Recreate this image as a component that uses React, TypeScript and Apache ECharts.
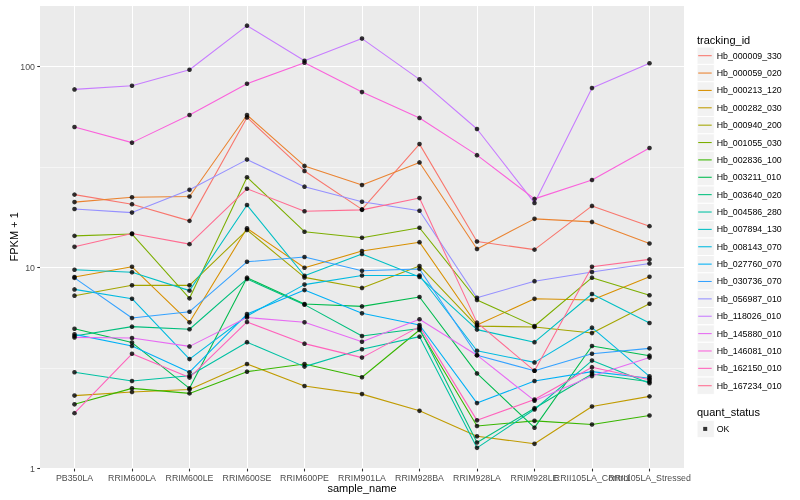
import React, { useEffect, useRef } from "react";
import * as echarts from "echarts";

const categories = [
  "PB350LA", "RRIM600LA", "RRIM600LE", "RRIM600SE", "RRIM600PE", "RRIM901LA",
  "RRIM928BA", "RRIM928LA", "RRIM928LE", "RRII105LA_Control", "RRII105LA_Stressed",
];

const trackingIds = [
  "Hb_000009_330", "Hb_000059_020", "Hb_000213_120", "Hb_000282_030", "Hb_000940_200",
  "Hb_001055_030", "Hb_002836_100", "Hb_003211_010", "Hb_003640_020", "Hb_004586_280",
  "Hb_007894_130", "Hb_008143_070", "Hb_027760_070", "Hb_030736_070", "Hb_056987_010",
  "Hb_118026_010", "Hb_145880_010", "Hb_146081_010", "Hb_162150_010", "Hb_167234_010",
];

const hueColors = [
  "#F8766D", "#EA8331", "#D89000", "#C09B00", "#A3A500", "#7CAE00", "#39B600", "#00BB4E",
  "#00BF7D", "#00C1A3", "#00BFC4", "#00BAE0", "#00B0F6", "#35A2FF", "#9590FF", "#C77CFF",
  "#E76BF3", "#FA62DB", "#FF62BC", "#FF6C91",
];

const hb000009_330 = [23.1, 20.7, 17.1, 55.9, 30.3, 19.5, 41.2, 13.5, 12.3, 20.3, 16.1];
const hb000059_020 = [21.2, 22.4, 22.6, 57.5, 32.1, 25.8, 33.4, 12.4, 17.5, 16.9, 13.2];
const hb000213_120 = [8.99, 10.1, 5.35, 15.7, 10.0, 12.1, 13.4, 5.19, 7.0, 6.91, 9.02];
const hb000282_030 = [2.31, 2.41, 2.48, 3.32, 2.58, 2.35, 1.94, 1.45, 1.33, 2.04, 2.29];
const hb000940_200 = [7.26, 8.17, 8.17, 15.4, 8.95, 7.93, 10.2, 5.12, 5.07, 4.73, 6.62];
const hb001055_030 = [14.4, 14.7, 7.04, 28.2, 15.1, 14.1, 15.8, 6.91, 5.13, 8.92, 7.29];
const hb002836_100 = [2.09, 2.51, 2.37, 3.04, 3.32, 2.85, 4.9, 1.63, 1.73, 1.66, 1.84];
const hb003211_010 = [4.97, 4.24, 2.51, 8.92, 6.6, 6.42, 7.15, 2.98, 1.6, 4.08, 3.65];
const hb003640_020 = [4.57, 5.09, 4.94, 8.79, 6.55, 4.57, 4.98, 1.35, 2.0, 2.96, 2.71];
const hb004586_280 = [3.02, 2.73, 2.9, 4.26, 3.22, 3.93, 4.54, 1.27, 1.97, 3.45, 2.66];
const hb007894_130 = [9.77, 9.49, 7.69, 20.5, 9.12, 11.7, 9.0, 4.92, 4.26, 7.4, 5.31];
const hb008143_070 = [7.8, 7.01, 3.51, 5.75, 8.24, 9.15, 9.15, 3.86, 3.38, 5.03, 2.88];
const hb027760_070 = [4.66, 4.08, 3.02, 5.88, 7.74, 5.93, 5.19, 2.12, 2.73, 3.04, 2.82];
const hb030736_070 = [8.9, 5.62, 6.04, 10.7, 11.3, 9.65, 9.86, 3.67, 3.07, 3.73, 3.97];
const hb056987_010 = [19.6, 18.8, 24.4, 34.5, 25.3, 21.3, 19.2, 7.09, 8.57, 9.52, 10.5];
const hb118026_010 = [77.1, 80.4, 96.6, 160, 107, 138, 86.5, 49.0, 21.0, 78.3, 104];
const hb145880_010 = [4.5, 4.47, 4.06, 5.65, 5.35, 4.28, 5.54, 3.67, 2.18, 2.89, 3.57];
const hb146081_010 = [50.1, 41.9, 57.5, 82.3, 104.7, 74.8, 55.6, 36.3, 22.0, 27.3, 39.4];
const hb162150_010 = [1.89, 3.73, 2.84, 5.37, 4.19, 3.57, 5.09, 1.74, 2.21, 3.2, 2.77];
const hb167234_010 = [12.7, 14.8, 13.1, 24.7, 19.1, 19.4, 22.2, 5.33, 3.07, 10.1, 11.0];

const seriesValues = [
  hb000009_330, hb000059_020, hb000213_120, hb000282_030, hb000940_200,
  hb001055_030, hb002836_100, hb003211_010, hb003640_020, hb004586_280,
  hb007894_130, hb008143_070, hb027760_070, hb030736_070, hb056987_010,
  hb118026_010, hb145880_010, hb146081_010, hb162150_010, hb167234_010,
];

const yTickValues = [1, 10, 100];
const quantStatus = "OK";

const FONT = "Liberation Sans, Arial, sans-serif";

export default function App() {
  const ref = useRef<HTMLDivElement>(null);

  useEffect(() => {
    if (!ref.current) return;
    const chart = echarts.init(ref.current, null, { renderer: "svg" });

    const logTop = 2.307;
    const keyX = 697;
    const keyW = 17.3;
    const keyH = 17.37;
    const legendTop = 47;
    const okTop = 420.3;

    const lineSeries = trackingIds.map((name, i) => ({
      name,
      type: "line",
      xAxisIndex: 0,
      yAxisIndex: 0,
      data: seriesValues[i].map((v, j) => [j, v]),
      symbol: "none",
      lineStyle: { color: hueColors[i], width: 1.07 },
      itemStyle: { color: hueColors[i] },
      z: 2,
      silent: true,
    }));

    const pointData: number[][] = [];
    seriesValues.forEach((vals) => vals.forEach((v, j) => pointData.push([j, v])));

    const keyRects: any[] = [];
    trackingIds.forEach((_, i) => {
      keyRects.push({
        type: "rect",
        shape: { x: keyX, y: legendTop + keyH * i, width: keyW, height: keyH },
        style: { fill: "#F2F2F2", stroke: "#FFFFFF", lineWidth: 1 },
        z: 0,
      });
    });
    keyRects.push({
      type: "rect",
      shape: { x: keyX, y: okTop, width: keyW, height: keyH },
      style: { fill: "#F2F2F2", stroke: "#FFFFFF", lineWidth: 1 },
      z: 0,
    });

    const catIdx = categories.map((_, i) => i);
    const evenIdx = catIdx.filter((i) => i % 2 === 0);
    const oddIdx = catIdx.filter((i) => i % 2 === 1);
    const labelBase = {
      color: "#4D4D4D",
      fontSize: 8.8,
      margin: 5,
      fontFamily: FONT,
      hideOverlap: false,
      showMinLabel: true,
      showMaxLabel: true,
      formatter: (v: number) => categories[Math.round(v)] ?? "",
    };

    const option: any = {
      animation: false,
      textStyle: { fontFamily: FONT },
      grid: {
        left: 40,
        right: 116,
        top: 5,
        bottom: 31.3,
        show: true,
        containLabel: false,
        outerBoundsMode: "none",
        backgroundColor: "#EBEBEB",
        borderWidth: 0,
      },
      xAxis: [
        {
          type: "value",
          min: -0.6,
          max: 10.6,
          position: "bottom",
          name: "sample_name",
          nameLocation: "middle",
          nameGap: 14,
          nameMoveOverlap: false,
          nameTextStyle: { fontSize: 11, color: "#000", fontFamily: FONT },
          axisLine: { show: false, onZero: false },
          axisTick: {
            show: true,
            length: 2.75,
            lineStyle: { color: "#333333", width: 1.07 },
            customValues: catIdx,
          },
          axisLabel: { ...labelBase, customValues: evenIdx },
          splitLine: { show: true, lineStyle: { color: "#FFFFFF", width: 1.07 } },
        },
        {
          type: "value",
          min: -0.6,
          max: 10.6,
          position: "bottom",
          offset: 0,
          axisLine: { show: false, onZero: false },
          axisTick: { show: false, customValues: oddIdx },
          axisLabel: { ...labelBase, customValues: oddIdx },
          splitLine: { show: false },
        },
      ],
      yAxis: [
        {
          type: "log",
          logBase: 10,
          min: yTickValues[0],
          max: Math.pow(10, logTop),
          name: "FPKM + 1",
          nameLocation: "middle",
          nameGap: 21,
          nameMoveOverlap: false,
          nameTextStyle: { fontSize: 11, color: "#000", fontFamily: FONT },
          axisLine: { show: false, onZero: false },
          axisTick: { show: true, length: 2.75, lineStyle: { color: "#333333", width: 1.07 } },
          axisLabel: {
            color: "#4D4D4D",
            fontSize: 8.8,
            margin: 5,
            fontFamily: FONT,
            showMaxLabel: false,
            formatter: (v: number) => (yTickValues.includes(Math.round(v)) ? String(Math.round(v)) : ""),
          },
          splitLine: { show: true, lineStyle: { color: "#FFFFFF", width: 1.07 } },
        },
        {
          type: "value",
          min: 0,
          max: logTop,
          interval: 0.5,
          position: "left",
          axisLine: { show: false, onZero: false },
          axisTick: { show: false },
          axisLabel: { show: false },
          splitLine: { show: true, lineStyle: { color: "#FFFFFF", width: 0.53 } },
        },
      ],
      legend: [
        {
          orient: "vertical",
          left: keyX,
          top: legendTop,
          itemGap: 0,
          itemWidth: 14.7,
          itemHeight: keyH,
          padding: 0,
          selectedMode: false,
          icon: "path://M0,0 M14.7,17.37 M1.2,8.15 L14.7,8.15 L14.7,9.22 L1.2,9.22 Z",
          itemStyle: { borderWidth: 0 },
          textStyle: { fontSize: 8.8, color: "#000", fontFamily: FONT },
          data: trackingIds.map((n, i) => ({ name: n, itemStyle: { color: hueColors[i], borderWidth: 0 } })),
        },
        {
          orient: "vertical",
          left: keyX,
          top: okTop,
          itemGap: 0,
          itemWidth: 14.7,
          itemHeight: keyH,
          padding: 0,
          selectedMode: false,
          icon: "path://M0,0 M14.7,17.37 M6.2,6.6 L10.2,6.6 L10.2,10.6 L6.2,10.6 Z",
          itemStyle: { borderWidth: 0 },
          textStyle: { fontSize: 8.8, color: "#000", fontFamily: FONT },
          data: [{ name: quantStatus, itemStyle: { color: "#000", borderWidth: 0 } }],
        },
      ],
      graphic: [
        ...keyRects,
        {
          type: "text",
          left: keyX,
          top: 34,
          style: { text: "tracking_id", fontSize: 11, fill: "#000", fontFamily: FONT },
          z: 1,
        },
        {
          type: "text",
          left: keyX,
          top: 406,
          style: { text: "quant_status", fontSize: 11, fill: "#000", fontFamily: FONT },
          z: 1,
        },
      ],
      series: [
        ...lineSeries,
        {
          name: quantStatus,
          type: "scatter",
          xAxisIndex: 0,
          yAxisIndex: 0,
          data: pointData,
          symbol: "circle",
          symbolSize: 4.6,
          itemStyle: { color: "#000" },
          z: 3,
          silent: true,
        },
      ],
    };

    chart.setOption(option);
    return () => chart.dispose();
  }, []);

  return (
    <div
      ref={ref}
      style={{ position: "fixed", left: 0, top: 0, width: 800, height: 500 }}
    />
  );
}
